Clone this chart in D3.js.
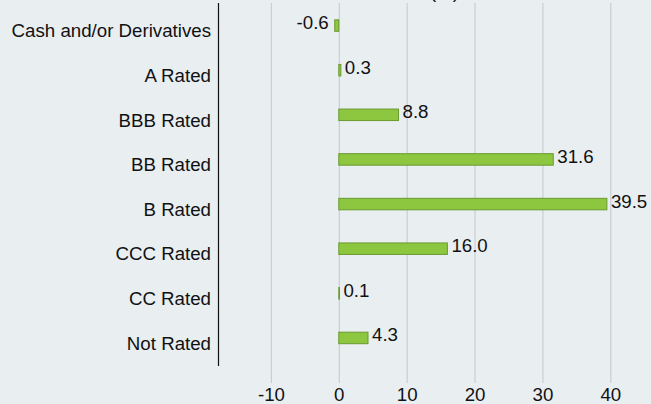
<!DOCTYPE html>
<html>
<head>
<meta charset="utf-8">
<script src="https://cdn.jsdelivr.net/npm/d3@7"></script>
<style>
	html, body { margin: 0; padding: 0; background: #e9eef1; }
	svg { display: block; font-family: "Liberation Sans", Arial, sans-serif; }
</style>
</head>
<body>
<svg id="chart"></svg>
<script>
// categories, top to bottom
var categories = ["Cash and/or Derivatives", "A Rated", "BBB Rated", "BB Rated", "B Rated", "CCC Rated", "CC Rated", "Not Rated"];
// weight (%)
var values = [-0.6, 0.3, 8.8, 31.6, 39.5, 16.0, 0.1, 4.3];
var tickValues = [-10, 0, 10, 20, 30, 40];

var svgWidth = 651, svgHeight = 404;
var fontSize = 18.7;

var svg = d3.select("#chart")
	.attr("width", svgWidth)
	.attr("height", svgHeight);

svg.append("rect")
	.attr("width", svgWidth)
	.attr("height", svgHeight)
	.attr("fill", "#e9eef1");

var x = d3.scaleLinear()
	.domain([-17.8, 46])
	.range([218, 651]);

var y = d3.scaleBand()
	.domain(categories)
	.range([9, 366]);

//title, mostly cut off at the top (as in the source image)
svg.append("text")
	.attr("x", 430)
	.attr("y", -2)
	.style("font-size", fontSize + "px")
	.attr("fill", "#111")
	.text("(%)");

//gridlines + tick labels
var gridTop = 3, gridBottom = 383;
var xAxis = svg.append("g")
	.attr("transform", `translate(0,${gridBottom})`)
	.call(d3.axisBottom(x)
		.tickValues(tickValues)
		.tickFormat(d => String(d))
		.tickSize(-(gridBottom - gridTop))
		.tickPadding(5));
xAxis.select(".domain").remove();
xAxis.selectAll(".tick line")
	.attr("stroke", "#c9ced2")
	.attr("stroke-width", 1.2);
xAxis.selectAll(".tick text")
	.style("font-size", fontSize + "px")
	.attr("fill", "#111");

//category axis
var yAxis = svg.append("g")
	.attr("transform", `translate(${x.range()[0]},0)`)
	.call(d3.axisLeft(y).tickSize(0).tickPadding(7));
yAxis.select(".domain")
	.attr("d", `M0.5,${gridTop}V${y.range()[1]}`)
	.attr("stroke", "#111")
	.attr("stroke-width", 1.2);
yAxis.selectAll(".tick text")
	.style("font-size", fontSize + "px")
	.attr("fill", "#111");

//bars
var barH = 11.5;
var rows = categories.map((c, i) => ({ name: c, value: values[i] }));

svg.append("g")
	.selectAll("rect")
	.data(rows)
	.join("rect")
	.attr("x", d => x(Math.min(0, d.value)))
	.attr("y", d => y(d.name) + y.bandwidth() / 2 - barH)
	.attr("width", d => Math.abs(x(d.value) - x(0)))
	.attr("height", barH)
	.attr("fill", "#8dc63f")
	.attr("stroke", "#6b9a2f")
	.attr("stroke-width", 1);

//value labels
svg.append("g")
	.selectAll("text")
	.data(rows)
	.join("text")
	.attr("x", d => d.value < 0 ? x(d.value) - 6 : x(d.value) + 4)
	.attr("y", d => y(d.name) + y.bandwidth() / 2 - barH / 2 - 3)
	.attr("dy", "0.35em")
	.attr("text-anchor", d => d.value < 0 ? "end" : "start")
	.style("font-size", fontSize + "px")
	.attr("fill", "#111")
	.text(d => d.value.toFixed(1));
</script>
</body>
</html>
